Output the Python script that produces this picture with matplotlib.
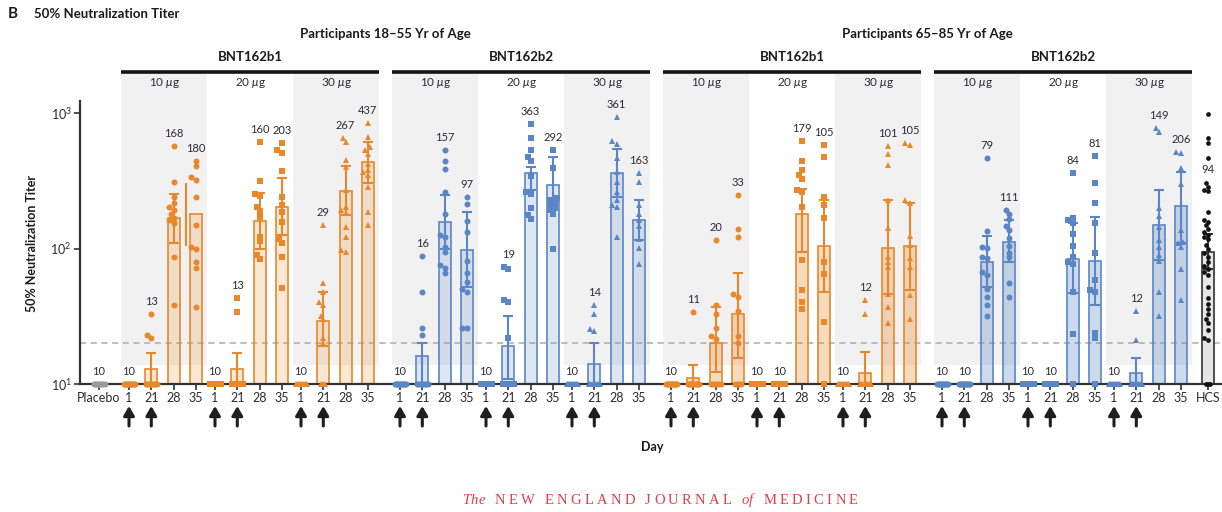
import numpy as np
import matplotlib
matplotlib.use("Agg")
import matplotlib.pyplot as plt
from matplotlib import transforms
from matplotlib.patches import Rectangle
from matplotlib.ticker import NullLocator
from matplotlib.offsetbox import TextArea, HPacker, AnnotationBbox

plt.rcParams['font.family'] = ['Lato', 'DejaVu Sans']
plt.rcParams['mathtext.fontset'] = 'custom'
plt.rcParams['mathtext.rm'] = 'Lato'
plt.rcParams['mathtext.it'] = 'Lato:italic'

# ------------------------------------------------------------------ data
LOD = 10            # lower limit of quantification, values plotted at 10
DASH_LEVEL = 20     # dashed reference line

days = ["1", "21", "28", "35"]
doses = ["10", "20", "30"]
vaccines = ["BNT162b1", "BNT162b2", "BNT162b1", "BNT162b2"]
age_groups = ["Participants 18\u201355 Yr of Age", "Participants 65\u201385 Yr of Age"]

# BNT162b1, 18-55 yr
b1y_10_pts = [[10] * 12, [33, 23, 22] + [10] * 9,
              [570, 309, 240, 217, 202, 192, 180, 168, 162, 154, 86, 38],
              [443, 406, 337, 320, 240, 149, 103, 99, 79, 72, 37]]
b1y_10_gmt = [10, 13, 168, 180]
b1y_10_lo = [10, 10, 110, 104]
b1y_10_hi = [10, 17, 252, 304]

b1y_20_pts = [[10] * 12, [43, 34] + [10] * 10,
              [611, 315, 252, 244, 202, 189, 171, 122, 113, 90, 84],
              [601, 533, 507, 373, 240, 209, 186, 157, 117, 110, 86, 51]]
b1y_20_gmt = [10, 13, 160, 203]
b1y_20_lo = [10, 10, 100, 125]
b1y_20_hi = [10, 17, 256, 331]

b1y_30_pts = [[10] * 12, [149, 56, 48, 40, 38, 32, 30, 22, 20] + [10] * 3,
              [653, 611, 450, 399, 270, 202, 192, 183, 144, 122, 97, 94],
              [843, 665, 560, 533, 500, 420, 380, 367, 350, 284, 186, 149]]
b1y_30_gmt = [10, 29, 267, 437]
b1y_30_lo = [10, 19, 177, 304]
b1y_30_hi = [10, 48, 406, 611]

# BNT162b2, 18-55 yr
b2y_10_pts = [[10] * 12, [88, 48, 26, 23] + [10] * 8,
              [533, 443, 387, 261, 180, 126, 122, 103, 94, 75, 72, 66],
              [240, 213, 160, 132, 81, 66, 57, 50, 48, 26, 26]]
b2y_10_gmt = [10, 16, 157, 97]
b2y_10_lo = [10, 10, 100, 52]
b2y_10_hi = [10, 20, 248, 186]

b2y_20_pts = [[10] * 12, [73, 70, 42, 40, 22] + [10] * 7,
              [830, 653, 533, 473, 443, 343, 261, 252, 199, 177, 165],
              [533, 393, 236, 229, 220, 209, 200, 192, 180, 99]]
b2y_20_gmt = [10, 19, 363, 292]
b2y_20_lo = [10, 10.9, 270, 202]
b2y_20_hi = [10, 32, 399, 473]

b2y_30_pts = [[10] * 12, [38, 33, 25.5, 24.6] + [10] * 8,
              [934, 621, 590, 465, 367, 309, 261, 229, 209, 202, 122],
              [361, 309, 209, 180, 162, 146, 117, 101, 77]]
b2y_30_gmt = [10, 14, 361, 163]
b2y_30_lo = [10, 10, 240, 115]
b2y_30_hi = [10, 20, 542, 229]

# BNT162b1, 65-85 yr
b1o_10_pts = [[10] * 12, [34] + [10] * 11,
              [116, 38, 33, 26, 22.6, 21.5] + [10] * 6,
              [248, 139, 122, 46, 44, 34.6, 22.6, 20] + [10] * 4]
b1o_10_gmt = [10, 11, 20, 33]
b1o_10_lo = [10, 10, 12.3, 15.6]
b1o_10_hi = [10, 13.8, 37, 66]

b1o_20_pts = [[10] * 12, [10] * 12,
              [621, 443, 380, 348, 326, 270, 261, 202, 82, 49, 40, 36],
              [580, 473, 240, 209, 168, 79, 65, 28.7, 10]]
b1o_20_gmt = [10, 10, 179, 105]
b1o_20_lo = [10, 10, 94, 48]
b1o_20_hi = [10, 10, 275, 229]

b1o_30_pts = [[10] * 12, [42, 33] + [10] * 10,
              [570, 498, 413, 229, 142, 86, 79, 73, 46, 37, 28],
              [601, 580, 229, 217, 124, 106, 85, 73, 45, 30]]
b1o_30_gmt = [10, 12, 101, 105]
b1o_30_lo = [10, 10, 46, 49]
b1o_30_hi = [10, 17.2, 229, 217]

# BNT162b2, 65-85 yr
b2o_10_pts = [[10] * 12, [10] * 12,
              [465, 135, 103, 101, 86, 85, 67, 64, 50, 44, 38, 32],
              [192, 180, 165, 146, 137, 119, 104, 93, 86, 56, 44]]
b2o_10_gmt = [10, 10, 79, 111]
b2o_10_lo = [10, 10, 52, 79]
b2o_10_hi = [10, 10, 124, 162]

b2o_20_pts = [[10] * 12, [10] * 12,
              [361, 168, 162, 154, 128, 104, 86, 79, 77, 48, 23.4, 10],
              [482, 304, 217, 154, 93, 59, 49, 48, 23.8, 21.9, 10]]
b2o_20_gmt = [10, 10, 84, 81]
b2o_20_lo = [10, 10, 47, 38]
b2o_20_hi = [10, 10, 154, 170]

b2o_30_pts = [[10] * 12, [34.6, 21] + [10] * 10,
              [775, 724, 199, 174, 144, 116, 103, 90, 81, 48, 32],
              [514, 507, 393, 298, 137, 112, 110, 103, 70, 42]]
b2o_30_gmt = [10, 12, 149, 206]
b2o_30_lo = [10, 10, 82, 110]
b2o_30_hi = [10, 15.5, 270, 367]

placebo_pts = [10] * 9
placebo_gmt = 10

hcs_pts = [984, 650, 604, 468, 306, 286, 270, 265, 187, 162, 158, 149,
           139, 132, 126, 122, 117, 106, 100, 92, 87, 80, 74, 71, 67, 64, 52,
           43, 39, 36, 33, 30, 28, 25, 22, 21, 10, 10, 10]
hcs_gmt = 94
hcs_lo, hcs_hi = 70, 127

cohorts = [
    [(b1y_10_pts, b1y_10_gmt, b1y_10_lo, b1y_10_hi),
     (b1y_20_pts, b1y_20_gmt, b1y_20_lo, b1y_20_hi),
     (b1y_30_pts, b1y_30_gmt, b1y_30_lo, b1y_30_hi)],
    [(b2y_10_pts, b2y_10_gmt, b2y_10_lo, b2y_10_hi),
     (b2y_20_pts, b2y_20_gmt, b2y_20_lo, b2y_20_hi),
     (b2y_30_pts, b2y_30_gmt, b2y_30_lo, b2y_30_hi)],
    [(b1o_10_pts, b1o_10_gmt, b1o_10_lo, b1o_10_hi),
     (b1o_20_pts, b1o_20_gmt, b1o_20_lo, b1o_20_hi),
     (b1o_30_pts, b1o_30_gmt, b1o_30_lo, b1o_30_hi)],
    [(b2o_10_pts, b2o_10_gmt, b2o_10_lo, b2o_10_hi),
     (b2o_20_pts, b2o_20_gmt, b2o_20_lo, b2o_20_hi),
     (b2o_30_pts, b2o_30_gmt, b2o_30_lo, b2o_30_hi)],
]

# ------------------------------------------------------------------ style
ORANGE = "#e8882a"
BLUE = "#5b86c6"
INK = "#2b2b33"
colors = {"BNT162b1": ORANGE, "BNT162b2": BLUE}
fill_alpha = [0.2, 0.2, 0.3, 0.3]
dose_markers = [("o", 4.3), ("s", 4.4), ("^", 5.0)]

# layout (x axis measured in pixels of the figure)
W, H = 1222, 512
X0, PANEL_STEP, DOSE_STEP, DAY_STEP = 129, 271, 86, 22.3
PLACEBO_X, HCS_X = 99, 1208
PX_PER_DEC = 135.5
BAR_W = 12
MARK_D = 4.2

fig = plt.figure(figsize=(W / 100, H / 100), dpi=100)
ax_left, ax_top, ax_bot = 80, 101, 384
ax = fig.add_axes([ax_left / W, 1 - ax_bot / H, 1 - ax_left / W, (ax_bot - ax_top) / H])
ax.set_xlim(ax_left, W)
ax.set_yscale("log")
ax.set_ylim(LOD, 10 ** (1 + (ax_bot - ax_top) / PX_PER_DEC))
blend = transforms.blended_transform_factory(ax.transData, ax.transAxes)
blend_fig = transforms.blended_transform_factory(ax.transData, fig.transFigure)


def swarm_offsets(vals):
    vals = np.asarray(vals, float)
    py = PX_PER_DEC * np.log10(vals)
    off = np.zeros(len(vals))
    base = vals <= LOD
    nb = int(base.sum())
    if nb > 1:
        off[base] = np.linspace(-1, 1, nb) * min(5.5, 1.0 * (nb - 1))
    placed = list(zip(off[base], py[base]))
    cands = [0, -2.5, 2.5, -4.5, 4.5]
    for i in np.argsort(py):
        if base[i]:
            continue
        best, bestd = 0.0, -1.0
        for c in cands:
            d = min([np.hypot(c - o, py[i] - y) for o, y in placed], default=99)
            if d >= MARK_D:
                best = c
                break
            if d > bestd:
                best, bestd = c, d
        off[i] = best
        placed.append((best, py[i]))
    return off


def draw_column(x, pts, gmt, lo, hi, color, marker, ms, alpha,
                edge=None, fill=None, err_dx=0, err_caps=True):
    ax.bar(x, gmt - LOD, bottom=LOD, width=BAR_W,
           facecolor=fill if fill else matplotlib.colors.to_rgba(color, alpha),
           edgecolor=edge if edge else color, linewidth=1.2, zorder=2)
    if hi > lo:
        ax.errorbar(x + err_dx, gmt, yerr=[[gmt - lo], [hi - gmt]], fmt="none",
                    ecolor=edge if edge else color, elinewidth=1.5,
                    capsize=3.4 if err_caps else 0, capthick=1.5, zorder=3)
    off = swarm_offsets(pts)
    ax.plot(x + off, pts, ls="none", marker=marker, ms=ms, color=color,
            mew=0, zorder=4, clip_on=False)
    return max(max(pts), hi, gmt)


# grey dose backgrounds and headers
for p in range(4):
    px0 = X0 + p * PANEL_STEP
    for d in range(3):
        gx0 = px0 + d * DOSE_STEP - 8
        if d != 1:
            ax.add_patch(Rectangle((gx0, 0.067), DOSE_STEP, 1.1025 - 0.067,
                                   transform=blend, facecolor="#f1f1f1",
                                   edgecolor="none", zorder=0, clip_on=False))
        ax.text(gx0 + DOSE_STEP / 2, 1.0636, f"{doses[d]} $\\mu$g", transform=blend,
                ha="center", va="center", fontsize=8.5, color=INK)
    bx0, bx1 = px0 - 8, px0 - 8 + 3 * DOSE_STEP
    ax.plot([bx0, bx1], [1.1025, 1.1025], transform=blend, color="#151515",
            lw=2.6, solid_capstyle="butt", clip_on=False)
    ax.text((bx0 + bx1) / 2, 1.157, vaccines[p], transform=blend, ha="center",
            va="center", fontsize=9.5, fontweight="bold", color="#1a1a1a")
for a in range(2):
    cx = X0 - 8 + a * 2 * PANEL_STEP + (PANEL_STEP + 3 * DOSE_STEP) / 2
    ax.text(cx, 1.238, age_groups[a], transform=blend, ha="center", va="center",
            fontsize=9.5, fontweight="bold", color="#1a1a1a")

ax.axhline(DASH_LEVEL, color="#ababab", lw=1.1, ls=(0, (4, 3)), zorder=1)

tick_x, tick_lab = [PLACEBO_X], ["Placebo"]

# placebo
top = draw_column(PLACEBO_X, placebo_pts, placebo_gmt, LOD, LOD, "#9a9a9a", "o", 4.3, 0.25)
ax.annotate(str(placebo_gmt), (PLACEBO_X, top), xytext=(0, 6.5), textcoords="offset points",
            ha="center", va="baseline", fontsize=8, color=INK)

# vaccine groups
for p, cohort in enumerate(cohorts):
    color = colors[vaccines[p]]
    for d, (pts, gmt, lo, hi) in enumerate(cohort):
        marker, ms = dose_markers[d]
        for k in range(4):
            x = X0 + p * PANEL_STEP + d * DOSE_STEP + k * DAY_STEP
            shifted = (p == 0 and d == 0 and k == 3)
            top = draw_column(x, pts[k], gmt[k], lo[k], hi[k], color, marker, ms,
                              fill_alpha[p], err_dx=-10 if shifted else 0,
                              err_caps=not shifted)
            if shifted:
                top = max(pts[k])
            ax.annotate(str(gmt[k]), (x, top), xytext=(0, 6.5), textcoords="offset points",
                        ha="center", va="baseline", fontsize=8, color=INK)
            tick_x.append(x)
            tick_lab.append(days[k])
            if k < 2:
                ax.annotate("", xy=(x, 1 - 406 / H), xytext=(x, 1 - 426 / H),
                            xycoords=blend_fig, textcoords=blend_fig,
                            arrowprops=dict(arrowstyle="-|>,head_length=0.55,head_width=0.32",
                                            lw=2.2, color="#1e1e1e", shrinkA=0, shrinkB=0))

# human convalescent serum
draw_column(HCS_X, hcs_pts, hcs_gmt, hcs_lo, hcs_hi, "#111111", "o", 3.4, 0,
            edge="#333333", fill="#e6e6e6")
ax.annotate(str(hcs_gmt), (HCS_X, 10 ** (1 + (384 - 173) / PX_PER_DEC)),
            ha="center", va="baseline", fontsize=8, color=INK)
tick_x.append(HCS_X)
tick_lab.append("HCS")

# axes styling
ax.set_xticks(tick_x)
ax.set_xticklabels(tick_lab, fontsize=9, color=INK)
ax.set_yticks([10, 100, 1000])
ax.set_yticklabels(["$10^{1}$", "$10^{2}$", "$10^{3}$"], fontsize=9, color=INK)
ax.yaxis.set_minor_locator(NullLocator())
ax.tick_params(axis="both", direction="out", length=4, width=1.2, color="#333333", pad=2)
for s in ("top", "right"):
    ax.spines[s].set_visible(False)
for s in ("left", "bottom"):
    ax.spines[s].set_linewidth(1.6)
    ax.spines[s].set_color("#333333")
ax.patch.set_visible(False)

# figure texts
fig.text(8 / W, 1 - 14 / H, "B", fontsize=11, fontweight="bold", va="center", color="#1a1a1a")
fig.text(34 / W, 1 - 14 / H, "50% Neutralization Titer", fontsize=9.5, fontweight="bold",
         va="center", color="#1a1a1a")
fig.text(32 / W, 1 - 243 / H, "50% Neutralization Titer", rotation=90, fontsize=9,
         fontweight="bold", ha="center", va="center", color="#1a1a1a")
fig.text(652 / W, 1 - 447 / H, "Day", fontsize=9, fontweight="bold", ha="center",
         va="center", color="#1a1a1a")

# journal footer with letter spacing
RED = "#e23d4b"


def spaced(word, italic=False, size=10.5):
    props = dict(family="Liberation Serif", size=size, color=RED,
                 style="italic" if italic else "normal")
    return HPacker(children=[TextArea(ch, textprops=props) for ch in word],
                   sep=2.4 if not italic else 0.4, pad=0, align="baseline")


words = [spaced("The", True), spaced("NEW"), spaced("ENGLAND"), spaced("JOURNAL"),
         spaced("of", True), spaced("MEDICINE")]
footer = HPacker(children=words, sep=7, pad=0, align="baseline")
fig.add_artist(AnnotationBbox(footer, (660 / W, 1 - 500 / H), xycoords="figure fraction",
                              frameon=False, box_alignment=(0.5, 0.5)))

fig.savefig("out.png", dpi=100)
